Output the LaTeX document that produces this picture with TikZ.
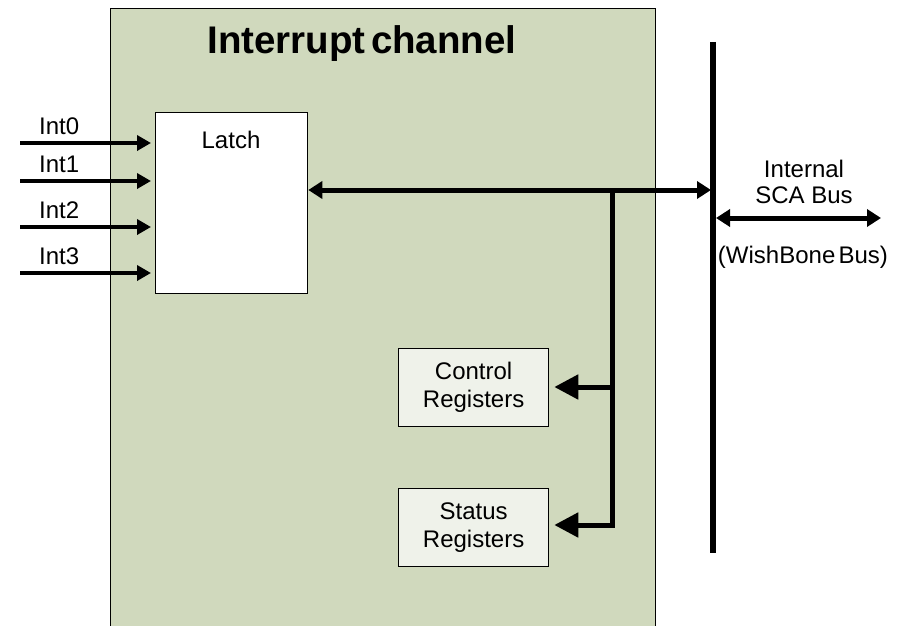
\documentclass[tikz,border=0pt]{standalone}
\usepackage{fontspec}
\setmainfont{Liberation Sans}
\usetikzlibrary{arrows.meta}

\definecolor{chanfill}{HTML}{D0D9BD}
\definecolor{regfill}{HTML}{EFF2EA}

\tikzset{
  chanbox/.style={draw=black, line width=1.3pt, fill=chanfill},
  latchbox/.style={draw=black, line width=1.3pt, fill=white, inner sep=0pt},
  regbox/.style={draw=black, line width=1.3pt, fill=regfill, inner sep=0pt,
    minimum width=150pt, minimum height=78pt, align=center,
    font=\fontsize{24}{28}\selectfont},
  txt/.style={font=\fontsize{24}{28}\selectfont, inner sep=0pt},
  sig/.style={line width=4.5pt, -{Triangle[length=14pt,width=15pt]}},
  busarrow/.style={line width=5pt, {Triangle[length=14pt,width=17pt]}-{Triangle[length=14pt,width=17pt]}},
  feed/.style={line width=5pt, -{Triangle[length=24pt,width=24pt]}},
  busline/.style={line width=5.5pt},
}

\begin{document}
\begin{tikzpicture}[x=1pt,y=-1pt]
\useasboundingbox (0,0) rectangle (902,626);

% channel enclosure
\node[chanbox, minimum width=545pt, minimum height=618pt, anchor=north west, inner sep=0pt]
  (chan) at (110,8) {};
\node[font=\bfseries\fontsize{38.5}{42}\selectfont, inner sep=0pt] (title) at (362,44)
  {Interrupt\hspace{-0.14em} channel};

% latch with its caption at the top
\node[latchbox, minimum width=152pt, minimum height=181pt, anchor=north west]
  (latch) at (155,112) {};
\node[txt] (latchlbl) at (231,140) {Latch};

% interrupt inputs
\foreach \i/\y in {0/143,1/181,2/227,3/273}{
  \coordinate (in\i) at (20,\y);
  \draw[sig, shorten >=4pt] (in\i) -- (in\i -| latch.west);
  \node[txt, anchor=west] (lbl\i) at (39,\y-17) {Int\i};
}

% registers
\node[regbox, anchor=north west] (ctrl) at (398,348) {Control\\Registers};
\node[regbox, anchor=north west] (stat) at (398,488) {Status\\Registers};

% internal SCA bus
\coordinate (bustop) at (713,42);
\coordinate (busbot) at (713,553);
\draw[busline] (bustop) -- (busbot);

% latch <-> bus
\coordinate (busin) at (711,190);
\coordinate (tap) at (612,190);
\draw[busarrow] (latch.east |- busin) -- (busin);

% branch down to the registers
\coordinate (tapc) at (612,387);
\coordinate (taps) at (612,525);
\draw[line width=5pt] (tap) -- ([yshift=-2.5pt]taps);
\draw[feed, shorten >=5pt] (tapc) -- (tapc -| ctrl.east);
\draw[feed, shorten >=5pt, line cap=rect] (taps) -- (taps -| stat.east);

% external side of the bus
\coordinate (extl) at (716,218);
\coordinate (extr) at (881,218);
\draw[busarrow] (extl) -- (extr);
\node[txt] (ext1) at (804,169) {Internal};
\node[txt] (ext2) at (804,195) {SCA Bus};
\node[txt] (ext3) at (803,257) {(WishBone\hspace{-0.14em} Bus)};
\end{tikzpicture}
\end{document}
